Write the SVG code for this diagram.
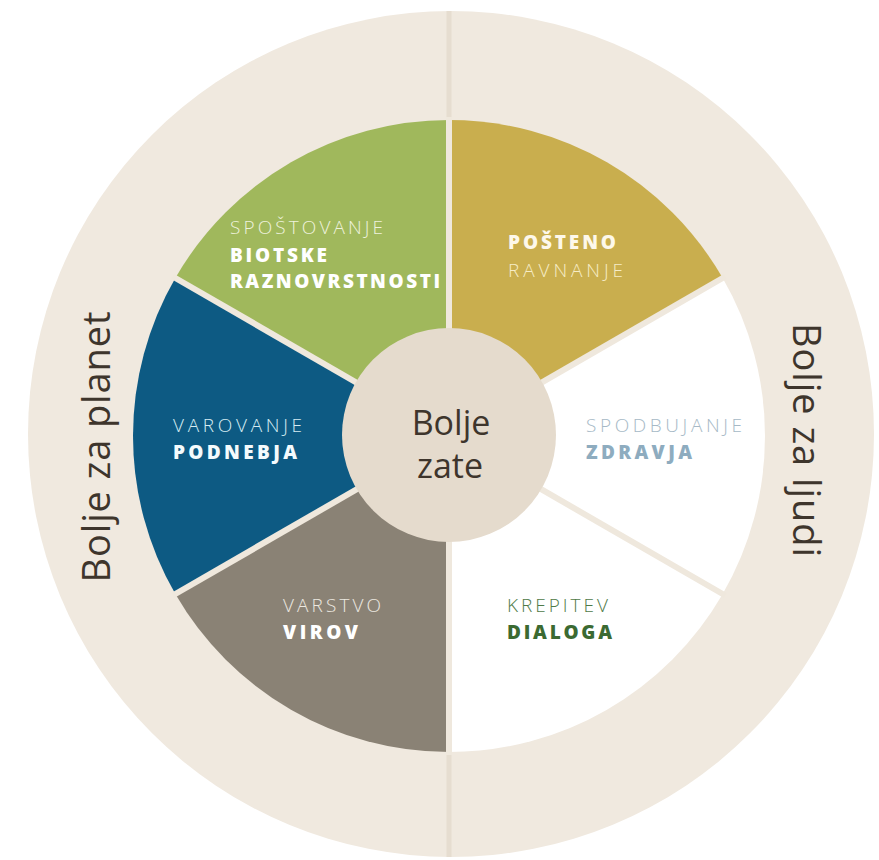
<svg xmlns="http://www.w3.org/2000/svg" width="879" height="860" viewBox="0 0 879 860">
<style>
.lab{font-family:"Open Sans","Noto Sans","Liberation Sans",sans-serif;font-size:19px}
.thin{font-weight:300}
.bold{font-weight:800}
.ring{font-family:"Open Sans","Noto Sans","Liberation Sans",sans-serif;font-size:38px;fill:#3e352c;text-anchor:middle}
.mid{font-family:"Open Sans","Noto Sans","Liberation Sans",sans-serif;font-size:34px;fill:#3e352c;text-anchor:middle}
.gap{stroke:#efe8dd;stroke-width:6;fill:none}
</style>
<rect width="879" height="860" fill="#ffffff"/>
<g id="outer-ring">
<circle cx="451" cy="434" r="423" fill="#f0e9df"/>
<line x1="449" y1="11" x2="449" y2="857" stroke="#e6ddd0" stroke-width="5"/>
</g>
<g id="ring-planet">
<text class="ring" transform="translate(110,447) rotate(-90)" textLength="271" lengthAdjust="spacing">Bolje za planet</text>
</g>
<g id="ring-ljudi">
<text class="ring" transform="translate(793,440) rotate(90)" textLength="234" lengthAdjust="spacing">Bolje za ljudi</text>
</g>
<g id="biotska">
<path d="M449,436 L449,120 A316,316 0 0 0 175.34,278 Z" fill="#a0b85c"/>
<text class="lab thin" x="230" y="234" fill="#eef2dc" textLength="153" lengthAdjust="spacing">SPOŠTOVANJE</text>
<text class="lab bold" x="230" y="262" fill="#ffffff" textLength="97" lengthAdjust="spacing">BIOTSKE</text>
<text class="lab bold" x="230" y="288" fill="#ffffff" textLength="210" lengthAdjust="spacing">RAZNOVRSTNOSTI</text>
</g>
<g id="posteno">
<path d="M449,436 L722.66,278 A316,316 0 0 0 449,120 Z" fill="#c9ae4e"/>
<text class="lab bold" x="508" y="249" fill="#fdf8ea" textLength="108" lengthAdjust="spacing">POŠTENO</text>
<text class="lab thin" x="508" y="277" fill="#f6ecc6" textLength="115" lengthAdjust="spacing">RAVNANJE</text>
</g>
<g id="zdravje">
<path d="M449,436 L722.66,594 A316,316 0 0 0 722.66,278 Z" fill="#ffffff"/>
<text class="lab thin" x="586" y="432" fill="#a6b9c6" textLength="156" lengthAdjust="spacing">SPODBUJANJE</text>
<text class="lab bold" x="586" y="459" fill="#8eacbf" textLength="106" lengthAdjust="spacing">ZDRAVJA</text>
</g>
<g id="dialog">
<path d="M449,436 L449,752 A316,316 0 0 0 722.66,594 Z" fill="#ffffff"/>
<text class="lab thin" x="507" y="612" fill="#4f7a48" textLength="101" lengthAdjust="spacing">KREPITEV</text>
<text class="lab bold" x="507" y="639" fill="#3b6a32" textLength="105" lengthAdjust="spacing">DIALOGA</text>
</g>
<g id="viri">
<path d="M449,436 L175.34,594 A316,316 0 0 0 449,752 Z" fill="#8a8275"/>
<text class="lab thin" x="283" y="612" fill="#ece8e0" textLength="98" lengthAdjust="spacing">VARSTVO</text>
<text class="lab bold" x="283" y="639" fill="#ffffff" textLength="75" lengthAdjust="spacing">VIROV</text>
</g>
<g id="podnebje">
<path d="M449,436 L175.34,278 A316,316 0 0 0 175.34,594 Z" fill="#0d5a83"/>
<text class="lab thin" x="173" y="432" fill="#d6ecf2" textLength="129" lengthAdjust="spacing">VAROVANJE</text>
<text class="lab bold" x="173" y="459" fill="#f4fbfd" textLength="124" lengthAdjust="spacing">PODNEBJA</text>
</g>
<g id="connectors">
<line class="gap" x1="449" y1="436" x2="449" y2="117"/>
<line class="gap" x1="449" y1="436" x2="449" y2="755"/>
<line class="gap" x1="449" y1="436" x2="725.3" y2="276.5"/>
<line class="gap" x1="449" y1="436" x2="725.3" y2="595.5"/>
<line class="gap" x1="449" y1="436" x2="172.7" y2="595.5"/>
<line class="gap" x1="449" y1="436" x2="172.7" y2="276.5"/>
</g>
<g id="center">
<circle cx="449" cy="435" r="107" fill="#e5dbcd"/>
<text class="mid" x="451" y="435">Bolje</text>
<text class="mid" x="450" y="478">zate</text>
</g>
</svg>
